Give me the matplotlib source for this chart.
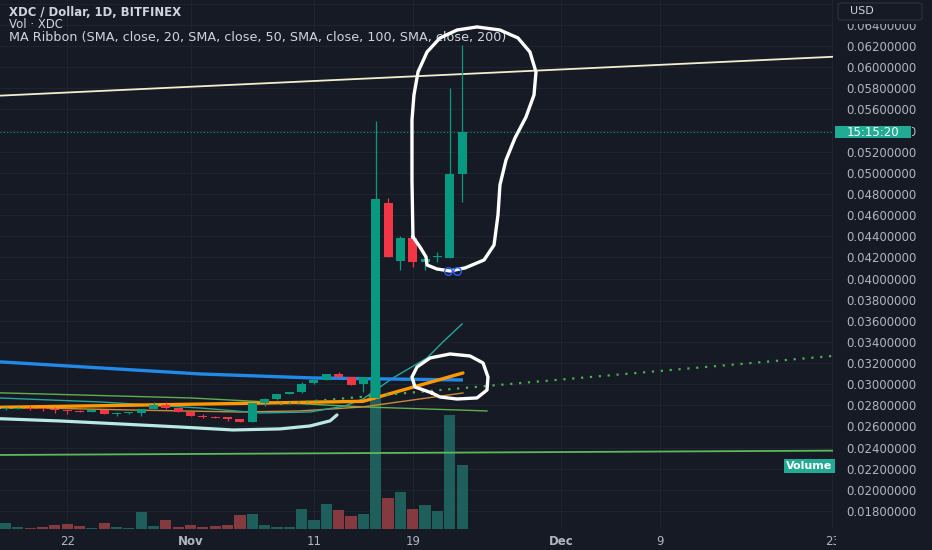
import numpy as np
import pandas as pd
import matplotlib
matplotlib.use("Agg")
import matplotlib.pyplot as plt
from matplotlib import transforms
from matplotlib.patches import Rectangle, FancyBboxPatch

# daily candles, XDC/USD, starting 2023-10-17
start = pd.Timestamp("2023-10-17")
opens = [0.02766, 0.02770, 0.02778, 0.02770, 0.02762, 0.02752, 0.02748, 0.02740, 0.02756, 0.02718,
         0.02725, 0.02728, 0.02770, 0.02803, 0.02775, 0.02737, 0.02702, 0.02692, 0.02685, 0.02672,
         0.02643, 0.02822, 0.02860, 0.02908, 0.02926, 0.03010, 0.03040, 0.03097, 0.03068, 0.03000,
         0.02870, 0.04712, 0.04166, 0.04386, 0.04156, 0.04206, 0.04191, 0.04989]
highs = [0.02785, 0.02785, 0.02790, 0.02775, 0.02785, 0.02760, 0.02752, 0.02760, 0.02760, 0.02740,
         0.02740, 0.02770, 0.02830, 0.02830, 0.02778, 0.02740, 0.02715, 0.02695, 0.02688, 0.02675,
         0.02825, 0.02870, 0.02910, 0.02930, 0.03021, 0.03045, 0.03100, 0.03120, 0.03070, 0.03070,
         0.05493, 0.04759, 0.04402, 0.04400, 0.04200, 0.04254, 0.05800, 0.06210]
lows = [0.02757, 0.02766, 0.02760, 0.02750, 0.02730, 0.02715, 0.02735, 0.02738, 0.02715, 0.02700,
        0.02720, 0.02700, 0.02765, 0.02770, 0.02735, 0.02698, 0.02680, 0.02680, 0.02655, 0.02640,
        0.02640, 0.02794, 0.02855, 0.02905, 0.02917, 0.03005, 0.03035, 0.03065, 0.02990, 0.02927,
        0.02865, 0.04200, 0.04081, 0.04112, 0.04081, 0.04159, 0.04190, 0.04727]
closes = [0.02775, 0.02778, 0.02770, 0.02762, 0.02752, 0.02745, 0.02740, 0.02755, 0.02718, 0.02728,
          0.02732, 0.02766, 0.02803, 0.02775, 0.02737, 0.02700, 0.02690, 0.02684, 0.02673, 0.02643,
          0.02822, 0.02860, 0.02908, 0.02926, 0.03002, 0.03040, 0.03097, 0.03068, 0.02993, 0.03068,
          0.04750, 0.04206, 0.04381, 0.04159, 0.04185, 0.04206, 0.04989, 0.05386]
volume_k = [6, 2, 1, 2, 4, 5, 3, 1, 6, 2, 1, 17, 3, 9, 2, 4, 2, 3, 4, 14,
            15, 4, 2, 2, 20, 9, 25, 19, 13, 15, 150, 31, 37, 20, 24, 18, 114, 64]
days = np.arange(len(opens))
last_price = closes[-1]

tick_dates = ["2023-10-22", "2023-11-01", "2023-11-11", "2023-11-19",
              "2023-12-01", "2023-12-09", "2023-12-23"]
tick_labels = ["22", "Nov", "11", "19", "Dec", "9", "23"]
tick_days = [(pd.Timestamp(t) - start).days for t in tick_dates]
price_ticks = np.round(np.arange(0.018, 0.0641, 0.002), 3)

# MA ribbon lines (day, price)
ma_blue_x = [-1, 7.66, 15.76, 24.92, 37.07]
ma_blue_y = [0.03215, 0.03154, 0.03097, 0.03059, 0.03040]
ma_orange_x = [-1, 19.0, 28.97, 37.07]
ma_orange_y = [0.02780, 0.02818, 0.02838, 0.03106]
ma_tan_x = [-1, 10.09, 19.0, 23.86, 28.97, 37.07]
ma_tan_y = [0.02785, 0.02756, 0.02737, 0.02747, 0.02785, 0.02917]
ma_teal_x = [-1, 7.66, 15.76, 20.62, 24.68, 27.51, 28.97, 31.4, 34.16, 35.45, 37.0]
ma_teal_y = [0.02872, 0.02832, 0.02775, 0.02728, 0.02737, 0.02794, 0.02860, 0.03059, 0.03248, 0.03400, 0.03570]

# user drawings (day, price)
trend_yellow_x = [-1, 68]
trend_yellow_y = [0.05727, 0.06103]
trend_dotted_x = [22.24, 68]
trend_dotted_y = [0.02813, 0.03277]
trend_green_x = [-1, 14.95, 28.97, 39.02]
trend_green_y = [0.02920, 0.02870, 0.02785, 0.02747]
level_green_x = [-1, 68]
level_green_y = [0.02330, 0.02372]
loop_big_x = [33.02, 32.94, 32.94, 33.10, 33.43, 34.16, 35.21, 36.59, 38.21, 40.07, 41.53, 42.50,
              42.99, 42.83, 42.18, 41.29, 40.56, 40.07, 39.91, 39.59, 38.78, 37.24, 36.02, 34.97,
              34.16, 34.08, 33.59, 33.02]
loop_big_y = [0.04393, 0.04932, 0.05500, 0.05736, 0.05954, 0.06143, 0.06276, 0.06351, 0.06380,
              0.06351, 0.06276, 0.06143, 0.05954, 0.05736, 0.05528, 0.05330, 0.05121, 0.04885,
              0.04601, 0.04317, 0.04175, 0.04100, 0.04071, 0.04090, 0.04128, 0.04204, 0.04298, 0.04393]
loop_small_x = [34.56, 33.18, 32.94, 33.35, 34.40, 36.02, 37.64, 38.70, 39.10, 39.02, 38.21,
                36.59, 35.21, 34.56]
loop_small_y = [0.02917, 0.02974, 0.03068, 0.03163, 0.03248, 0.03286, 0.03267, 0.03201, 0.03068,
                0.02945, 0.02870, 0.02860, 0.02879, 0.02917]
curve_cyan_x = [-1, 4.42, 9.28, 14.14, 18.44, 22.24, 24.68, 26.30, 26.86]
curve_cyan_y = [0.02676, 0.02652, 0.02624, 0.02595, 0.02567, 0.02577, 0.02605, 0.02653, 0.02709]

bg = "#161a25"
grid_c = "#1f2330"
axis_txt = "#b2b5be"
legend_txt = "#d1d4dc"
up_c = "#089981"
down_c = "#f23645"
up_vol = "#1f5f5b"
down_vol = "#843a3e"

W, H = 932, 550
fig = plt.figure(figsize=(W / 100, H / 100), dpi=100, facecolor=bg)
pos = [0, 21 / H, 833 / W, 529 / H]
ax_vol = fig.add_axes(pos)
ax = fig.add_axes(pos, sharex=ax_vol)
ax.patch.set_visible(False)
ax_vol.set_facecolor(bg)

ax.set_xlim(-0.446, 67.06)
ax.set_ylim(0.01630, 0.06635)

# grid under the volume bars
hgrid = transforms.blended_transform_factory(ax_vol.transAxes, ax.transData)
for t in np.arange(0.016, 0.0661, 0.002):
    ax_vol.plot([0, 1], [t, t], transform=hgrid, color=grid_c, lw=0.8, zorder=0)
for d in tick_days:
    ax_vol.axvline(d, color=grid_c, lw=0.8, zorder=0)

vol_cols = [up_vol if c >= o else down_vol for o, c in zip(opens, closes)]
ax_vol.bar(days, volume_k, width=0.9, color=vol_cols, zorder=2, linewidth=0)
ax_vol.set_ylim(0, 529)

# drawings and ribbon
ax.plot(level_green_x, level_green_y, color="#5cb85c", lw=1.3, zorder=2)
ax.plot(trend_green_x, trend_green_y, color="#5fae4f", lw=1.0, zorder=2)
ax.plot(ma_tan_x, ma_tan_y, color="#c98b3c", lw=1.0, zorder=2)
ax.plot(ma_teal_x, ma_teal_y, color="#26a69a", lw=1.0, zorder=2)
ax.plot(ma_blue_x, ma_blue_y, color="#2189e8", lw=2.4, zorder=2.2, solid_capstyle="butt")
ax.plot(ma_orange_x, ma_orange_y, color="#ff9800", lw=2.4, zorder=2.3, solid_capstyle="round")
ax.plot(trend_dotted_x, trend_dotted_y, color="#4caf50", lw=1.6, ls=(0, (1, 3)), zorder=2.4)
ax.axhline(last_price, color=up_c, lw=0.8, ls=(0, (1, 2)), zorder=2)
ax.plot(trend_yellow_x, trend_yellow_y, color="#f3eecb", lw=1.3, zorder=3)

# candles
for d, o, h, l, c in zip(days, opens, highs, lows, closes):
    col = up_c if c >= o else down_c
    body = abs(c - o)
    bottom = min(o, c)
    if body < 0.0001:
        bottom = (o + c) / 2 - 0.00005
        body = 0.0001
    ax.vlines(d, l, h, color=col, lw=0.9, zorder=4)
    ax.bar(d, body, bottom=bottom, width=0.73, color=col, zorder=4, linewidth=0)

# hand-drawn marks
ax.plot(curve_cyan_x, curve_cyan_y, color="#b9e9e3", lw=2.3, zorder=6, solid_capstyle="round")
ax.plot(loop_big_x, loop_big_y, color="white", lw=2.4, zorder=6, solid_joinstyle="round")
ax.plot(loop_small_x, loop_small_y, color="white", lw=2.4, zorder=6, solid_joinstyle="round")
ax.plot([35.9, 36.6], [0.04070, 0.04070], ls="none", marker="o", ms=5.5, mfc="none",
        mec="#2962ff", mew=1.0, zorder=6)

# axes styling
for a in (ax, ax_vol):
    for s in a.spines.values():
        s.set_visible(False)
ax_vol.tick_params(left=False, labelleft=False, bottom=False, labelbottom=False)
ax.yaxis.tick_right()
ax.set_yticks(price_ticks)
ax.set_yticklabels([f"{t:.8f}" for t in price_ticks])
ax.tick_params(axis="y", length=0, pad=9.4, labelsize=8.5, labelcolor=axis_txt)
ax.set_xticks(tick_days)
ax.set_xticklabels(tick_labels)
ax.tick_params(axis="x", length=0, pad=4.5, labelsize=8.5, labelcolor=axis_txt)
for lab in ax.get_xticklabels():
    if lab.get_text() in ("Nov", "Dec"):
        lab.set_fontweight("bold")

# countdown label sits on top of the 0.054 tick: only its tail stays visible
tail_box = transforms.TransformedBbox(transforms.Bbox([[912 / W, 0], [1, 1]]), fig.transFigure)
for lab in ax.get_yticklabels():
    if lab.get_text() == "0.05400000":
        lab.set_clip_on(True)
        lab.set_clip_box(tail_box)

# legend texts (under the drawings)
ax.text(9 / W, 1 - 12 / H, "XDC / Dollar, 1D, BITFINEX", transform=fig.transFigure,
        color=legend_txt, fontsize=8.4, fontweight="bold", va="center", zorder=5)
ax.text(9 / W, 1 - 24.5 / H, "Vol · XDC", transform=fig.transFigure,
        color=legend_txt, fontsize=8.4, va="center", zorder=5)
ax.text(9 / W, 1 - 37 / H,
        "MA Ribbon (SMA, close, 20, SMA, close, 50, SMA, close, 100, SMA, close, 200)",
        transform=fig.transFigure, color=legend_txt, fontsize=9.2, va="center", zorder=5)

ax.text(0.9995, (529 - 466) / 529, "Volume", transform=ax.transAxes, ha="right", va="center",
        color="white", fontsize=8, fontweight="bold", zorder=7,
        bbox=dict(boxstyle="square,pad=0.2", fc="#22ab94", ec="none"))

# right scale overlays
fig.patches.append(Rectangle((836 / W, 0), 1 - 836 / W, 19 / H, transform=fig.transFigure,
                             fc=bg, ec="none", zorder=5))
fig.patches.append(Rectangle((834 / W, 1 - 24 / H), 1 - 834 / W, 24 / H, transform=fig.transFigure,
                             fc=bg, ec="none", zorder=5))
fig.patches.append(FancyBboxPatch((838 / W, 1 - 20 / H), 84 / W, 17 / H, transform=fig.transFigure,
                                  boxstyle="round,pad=0,rounding_size=0.004", fc=bg,
                                  ec="#2a2e39", lw=1, zorder=6))
fig.text(850 / W, 1 - 11.5 / H, "USD", color=legend_txt, fontsize=8, va="center", zorder=7)

yf = fig.transFigure.inverted().transform(ax.transData.transform((0, last_price)))[1]
fig.patches.append(Rectangle((835 / W, yf - 6 / H), 76 / W, 12 / H, transform=fig.transFigure,
                             fc="#22ab94", ec="none", zorder=6))
fig.text(873 / W, yf, "15:15:20", color="white", fontsize=8.5, ha="center", va="center", zorder=7)

fig.savefig("out.png", dpi=100, facecolor=bg)
